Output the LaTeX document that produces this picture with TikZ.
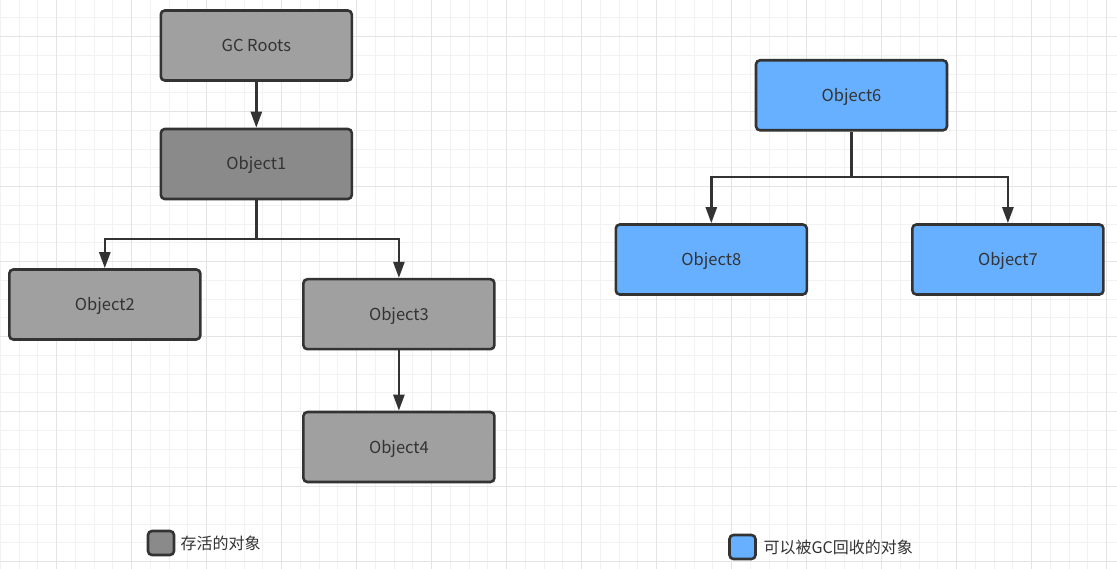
\documentclass[tikz,border=0pt]{standalone}
\usepackage{fontspec}
\setmainfont{Noto Sans CJK SC}
\usetikzlibrary{arrows.meta}
\definecolor{minorgrid}{HTML}{F2F2F2}
\definecolor{majorgrid}{HTML}{E4E4E4}
\definecolor{livefill}{HTML}{A0A0A0}
\definecolor{rootfill}{HTML}{8A8A8A}
\definecolor{gcfill}{HTML}{66B0FF}
\definecolor{edge}{HTML}{333333}
\definecolor{txt}{HTML}{333333}
\tikzset{
  obj/.style={draw=edge, line width=2.6pt, rounded corners=4pt,
    minimum width=191pt, minimum height=70pt, inner sep=0pt,
    text height=12pt, text depth=0pt,
    text=txt, font=\fontsize{16.5}{19}\selectfont},
  legbox/.style={draw=edge, line width=2.6pt, rounded corners=4pt,
    minimum width=26pt, minimum height=24pt, inner sep=0pt},
  legtext/.style={anchor=west, inner sep=0pt, text height=11.5pt, text depth=0pt,
    text=txt, font=\fontsize{16}{19}\selectfont},
  conn/.style={draw=edge, line width=2.5pt, -{Triangle[width=11pt,length=16pt]}},
  minor/.style={draw=minorgrid, line width=1pt},
  major/.style={draw=majorgrid, line width=1pt}
}
\begin{document}
\begin{tikzpicture}[x=1pt,y=-1pt]
\useasboundingbox (0,0) rectangle (1117,569);
\fill[white] (0,0) rectangle (1117,569);
% grid
\foreach \k in {0,...,59} { \draw[minor] ({0.45+18.75*\k},0) -- ++(0,569); }
\foreach \k in {0,...,30} { \draw[minor] (0,{-0.8+18.75*\k}) -- ++(1117,0); }
\foreach \k in {0,...,14} { \draw[major] ({56.7+75*\k},0) -- ++(0,569); }
\foreach \k in {0,...,7} { \draw[major] (0,{36.7+75*\k}) -- ++(1117,0); }
% nodes
\node[obj, fill=livefill] (gc) at (256.3,45.5) {GC Roots};
\node[obj, fill=rootfill] (o1) at (256.3,164) {Object1};
\node[obj, fill=livefill] (o2) at (104.8,304.5) {Object2};
\node[obj, fill=livefill] (o3) at (398.9,314.2) {Object3};
\node[obj, fill=livefill] (o4) at (398.9,447) {Object4};
\node[obj, fill=gcfill] (o6) at (851.5,95.3) {Object6};
\node[obj, fill=gcfill] (o8) at (711.3,259.5) {Object8};
\node[obj, fill=gcfill] (o7) at (1007.9,259.5) {Object7};
% junctions
\coordinate (j1) at (256.3,239);
\coordinate (j6) at (851.5,177);
% connectors
\draw[conn] (gc) -- (o1);
\draw[conn] (o1.south) -- (j1) -| (o2.north);
\draw[conn] (j1) -| (o3.north);
\draw[conn] (o3) -- (o4);
\draw[conn] (o6.south) -- (j6) -| (o8.north);
\draw[conn] (j6) -| (o7.north);
% legend
\node[legbox, fill=rootfill] (lg1) at (161,543) {};
\node[legtext] (lt1) at (180.5,544) {存活的对象};
\node[legbox, fill=gcfill] (lg2) at (742.5,547) {};
\node[legtext] (lt2) at (763.5,548) {可以被GC回收的对象};
\end{tikzpicture}
\end{document}
